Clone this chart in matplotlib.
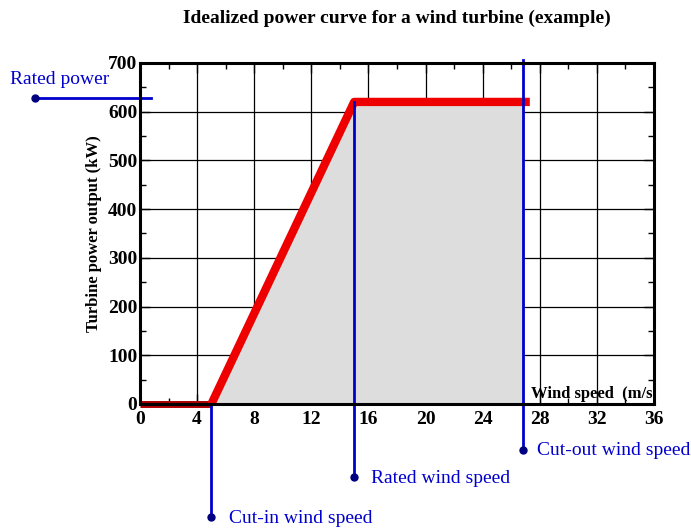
import matplotlib
matplotlib.use('Agg')
import matplotlib.pyplot as plt
from matplotlib.ticker import MultipleLocator

plt.rcParams['font.family'] = ['Liberation Serif', 'DejaVu Serif']

# power curve (m/s, kW)
wind_speed = [0, 5, 15, 27.3]
power = [0, 0, 620, 620]

cut_in = 5
rated_speed = 15
cut_out = 26.85
rated_power = 620

x_ticks = [0, 4, 8, 12, 16, 20, 24, 28, 32, 36]
y_ticks = [0, 100, 200, 300, 400, 500, 600, 700]

fig = plt.figure(figsize=(6.91, 5.29), dpi=100)
ax = fig.add_axes([0.2026, 0.2363, 0.7439, 0.6447])

ax.grid(True, color='black', linewidth=0.9, zorder=0)
ax.set_axisbelow(True)
ax.fill_between([5, 15, cut_out], 0, [0, 620, 620], color='#dddddd', zorder=1)
ax.plot(wind_speed[:2], power[:2], color='#b00000', linewidth=5, solid_capstyle='butt', zorder=4, clip_on=False)
ax.plot(wind_speed[1:], power[1:], color='#ee0000', linewidth=6, solid_capstyle='butt', zorder=4, clip_on=False)

ax.set_xlim(0, 36)
ax.set_ylim(0, 700)
ax.set_xticks(x_ticks)
ax.set_yticks(y_ticks)
ax.xaxis.set_minor_locator(MultipleLocator(2))
ax.yaxis.set_minor_locator(MultipleLocator(50))
ax.tick_params(which='both', direction='in', top=True, right=True, labelsize=14)
ax.tick_params(axis='x', pad=5)
ax.tick_params(axis='y', pad=2)
ax.tick_params(which='major', length=7, width=1)
ax.tick_params(which='minor', length=4, width=1)
for lab in ax.get_xticklabels() + ax.get_yticklabels():
    lab.set_fontweight('bold')
for sp in ax.spines.values():
    sp.set_linewidth(2.2)
    sp.set_zorder(8)

ax.set_ylabel('Turbine power output (kW)', fontsize=12, fontweight='bold', labelpad=4)
ax.text(35.9, 4, 'Wind speed  (m/s', fontsize=12, fontweight='bold', ha='right', va='bottom', zorder=5)
fig.text(0.574, 0.966, 'Idealized power curve for a wind turbine (example)',
         ha='center', va='center', fontsize=14, fontweight='bold')

blue = '#0000cc'
kw = dict(color=blue, linewidth=2, clip_on=False, zorder=6)
mk = dict(color='#000080', marker='o', markersize=5, clip_on=False, zorder=7, linestyle='none')

# rated power marker line
ax.plot([-7.35, 0.75], [628, 628], **kw)
ax.plot([-7.35], [628], **mk)
ax.text(-9.1, 666, 'Rated power', color=blue, fontsize=14, ha='left', va='center', clip_on=False)

# cut-in
ax.plot([cut_in, cut_in], [0, -232], **kw)
ax.plot([cut_in], [-232], **mk)
ax.text(cut_in + 1.2, -234, 'Cut-in wind speed', color=blue, fontsize=14, ha='left', va='center', clip_on=False)

# rated wind speed
ax.plot([rated_speed, rated_speed], [rated_power, -150], **kw)
ax.plot([rated_speed], [-150], **mk)
ax.text(rated_speed + 1.2, -152, 'Rated wind speed', color=blue, fontsize=14, ha='left', va='center', clip_on=False)

# cut-out
ax.plot([cut_out, cut_out], [706, -94], **kw)
ax.plot([cut_out], [-94], **mk)
ax.text(cut_out + 0.95, -96, 'Cut-out wind speed', color=blue, fontsize=14, ha='left', va='center', clip_on=False)

fig.savefig('out.png', dpi=100)
